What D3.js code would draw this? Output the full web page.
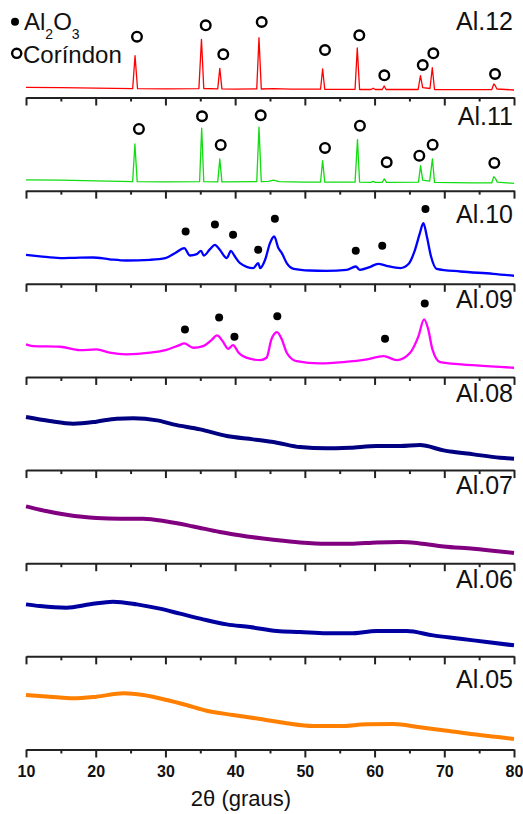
<!DOCTYPE html>
<html>
<head>
<meta charset="utf-8">
<script src="https://cdn.jsdelivr.net/npm/d3@7"></script>
<style>
	body { margin: 0; background: #fff; }
	text { font-family: Arial, "Liberation Sans", sans-serif; fill: #111; }
</style>
</head>
<body>
<svg id="chart"></svg>
<script>
// sample names, top to bottom
const samples = ['Al.12', 'Al.11', 'Al.10', 'Al.09', 'Al.08', 'Al.07', 'Al.06', 'Al.05'];
const xTicks = [10, 20, 30, 40, 50, 60, 70, 80];
const xMinorTicks = [15, 25, 35, 45, 55, 65, 75];

// patterns: [2theta, intensity (a.u., height above panel axis)]
const al12 = [[10,10.2],[15,9.8],[20,9.3],[25.3,8.8],[25.64,41.8],[26,8.8],[30,8.6],[34.8,8.8],[35.17,58.2],[35.5,9],[37.5,8.6],[37.8,29.2],[38.1,8.6],[40,8.4],[43.1,8.6],[43.42,59.8],[43.75,8.5],[45.5,8.8],[48,8.3],[52.25,8.3],[52.55,28.5],[52.85,8.2],[57.2,8.2],[57.52,49.5],[57.85,8],[59.5,8],[59.8,9.3],[60.1,8],[61.1,8],[61.38,11.5],[61.65,8],[66.25,8],[66.58,21.8],[66.9,9.8],[67.95,9],[68.28,29.8],[68.6,8],[74,7.8],[76.8,7.8],[77.1,13.5],[77.3,12],[77.55,8.5],[80,7.5]];
const al11 = [[10,10.7],[15,10.5],[20,9.8],[25.3,9],[25.62,46.7],[25.95,9],[30,8.8],[34.9,9],[35.2,62.4],[35.5,9],[37.5,8.8],[37.8,31.7],[38.1,8.8],[43.1,9],[43.42,63.4],[43.75,9],[44.8,9.2],[45.5,10.5],[46.3,9],[50,8.5],[52.25,8.5],[52.55,30],[52.85,8.5],[57.2,8.5],[57.55,51],[57.85,8.5],[59.5,8.3],[59.8,9.3],[60.1,8.3],[61.1,8.3],[61.4,11.7],[61.7,8.3],[66.3,8.5],[66.6,25],[66.9,10.5],[67.9,9.5],[68.3,31.7],[68.6,8.3],[74,7.7],[76.8,7.7],[77.1,14],[77.35,12],[77.6,8.5],[80,7.3]];
const al10 = [[10,29],[12,27.5],[14.9,25.7],[17,26],[19.6,26.3],[22,24.5],[24.4,23.3],[27.8,24],[30,25.7],[31.4,30.7],[32.7,35.7],[33.5,28.3],[34.5,29.7],[35.1,33],[35.5,28.3],[36.4,34.7],[37.1,39],[37.8,34],[38.8,25.7],[39.4,33],[39.9,28],[40.7,20.7],[42.6,15.7],[43.3,20.7],[43.6,15.7],[44.3,24],[45,40.7],[45.6,47.3],[46.2,35.7],[46.7,30.7],[47.4,20.7],[48.4,15],[50.7,13.3],[53.1,13],[56,14],[57.3,17.3],[57.9,14],[59.3,16.7],[60.5,20],[61.7,18],[63.7,15.7],[64.9,20],[65.8,34],[66.5,50.7],[67,60.7],[67.5,47.3],[68.1,27.3],[68.9,15],[72.3,12.3],[77,10],[80,8]];
const al09 = [[10,32.5],[11,30.8],[14.9,30.2],[17.7,26.8],[20.1,27.5],[22,24.2],[24.4,22.5],[27.8,24.2],[30,26.8],[31.9,31.5],[32.7,33.5],[34,29.2],[35.4,30.8],[36.6,36.8],[37.4,41.5],[38.2,35.8],[39,28.2],[39.7,31.8],[40.5,24.2],[42.1,18.2],[43.6,16.8],[44.5,19.2],[45.2,37.5],[46,44.8],[46.7,37.5],[47.4,24.2],[48.8,15.8],[52.2,13.5],[55.5,14.8],[58.9,17.5],[61.3,20.8],[63.2,16.8],[65.1,24.2],[66.3,40.8],[67.1,57.5],[67.7,47.5],[68.3,27.5],[69.4,14.8],[74.6,11.5],[80,9.2]];
const al08 = [[10,53],[13.4,49],[16.8,46.4],[20.1,48.4],[23,51.4],[25.4,51.7],[28.8,49.7],[31.1,45.7],[35,40.7],[38.8,34],[42.6,30.7],[46,27.4],[49.3,23],[53.1,21.7],[56.5,22.4],[60.3,24],[63.7,24],[66.5,25],[69.9,19.7],[74.2,15.7],[78,12.4],[80,11.4]];
const al07 = [[10,56.8],[12,53.5],[15.8,48.5],[20.1,45.2],[23.5,44.5],[26.8,44.5],[30.2,41.8],[34,36.8],[37.8,31.2],[41.7,26.8],[45.5,23.5],[49.3,20.8],[53.1,19.5],[56.5,19.5],[60.3,20.8],[63.7,21.2],[66.5,19.8],[69.9,16.8],[74.2,14.5],[78,11.8],[80,10.2]];
const al06 = [[10,52],[12,50.3],[15.8,48.7],[19.2,52],[22.5,54.7],[25.9,52],[29.2,47.7],[32.1,42.7],[35.4,37],[38.8,32],[42.1,29.3],[46,25.3],[49.3,24.3],[53.1,23],[56.5,23],[60.3,25.3],[64.6,25.3],[68.4,21],[72.3,17.7],[76.1,14.3],[80,11]];
const al05 = [[10,54.5],[13.4,52.8],[16.8,51.2],[20.1,52.8],[24,56.2],[26.8,54.5],[30.2,49.5],[33,44.5],[35.9,38.8],[39.7,34.5],[43.6,30.5],[47.4,26.2],[51.2,23.5],[55,23.5],[58.9,25.2],[62.7,25.5],[66.5,22.2],[70.4,18.8],[74.2,15.2],[78,12.2],[80,10.5]];

// phase markers: [2theta, level]
const corindon12 = [[25.92,60.8],[35.78,72.2],[38.3,43.2],[43.81,75.5],[52.89,47.5],[57.81,62.2],[61.4,22.2],[66.91,32.5],[68.43,44.2],[77.28,23.5]];
const corindon11 = [[26.2,61.7],[35.25,74.4],[37.93,45.7],[43.67,75.4],[52.89,42.7],[57.9,65],[61.74,28.4],[66.42,35],[68.33,46],[77.18,27.7]];
const alumina10 = [[32.9,52.3],[37.1,59.3],[39.7,49],[43.3,34],[45.7,65],[57.3,33],[61.1,38],[67.3,74.7]];
const alumina09 = [[32.8,47.5],[37.7,59.5],[39.9,40.2],[46.05,60.8],[61.5,38.2],[67.2,73.5]];

// level of each sample label
const labelLevels = [67.5, 65.3, 60.7, 69.2, 68.4, 69.5, 68.7, 61.2];

const patterns = [al12, al11, al10, al09, al08, al07, al06, al05];
const openMarks = [corindon12, corindon11, [], [], [], [], [], []];
const filledMarks = [[], [], alumina10, alumina09, [], [], [], []];

const colors = ['#ff0000', '#11dd11', '#0000ff', '#ff00ff', '#000080', '#800080', '#0000a0', '#ff8000'];
const widths = [1.3, 1.3, 2.3, 2.3, 4, 4, 4, 4];

let width = 523, height = 814;
let svg = d3.select('#chart').attr('width', width).attr('height', height);

let x = d3.scaleLinear().domain([10, 80]).range([26, 514]);
let axisY = d3.scaleLinear().domain([0, samples.length - 1]).range([97.5, 749.5]);
let panelH = 93;

let line = d3.line().x(d => x(d[0]));

samples.forEach(function(name, i) {
	let base = axisY(i);
	let y = d3.scaleLinear().domain([0, panelH]).range([base, base - panelH]);
	let g = svg.append('g').attr('class', 'panel');

	g.append('path')
		.datum(patterns[i])
		.attr('fill', 'none')
		.attr('stroke', colors[i])
		.attr('stroke-width', widths[i])
		.attr('stroke-linejoin', 'round')
		.attr('d', line.y(d => y(d[1])).curve(i < 2 ? d3.curveLinear : d3.curveMonotoneX));

	g.selectAll('.open').data(openMarks[i]).enter()
		.append('circle')
		.attr('cx', d => x(d[0])).attr('cy', d => y(d[1]))
		.attr('r', 4.8).attr('fill', 'none')
		.attr('stroke', '#000').attr('stroke-width', 2.4);

	g.selectAll('.filled').data(filledMarks[i]).enter()
		.append('circle')
		.attr('cx', d => x(d[0])).attr('cy', d => y(d[1]))
		.attr('r', 4).attr('fill', '#000');

	g.append('text')
		.attr('x', 513).attr('y', y(labelLevels[i]))
		.attr('text-anchor', 'end')
		.style('font-size', '25px')
		.text(name);

	// axis under each panel, ticks pointing down
	let last = i == samples.length - 1;
	let axis = d3.axisBottom(x)
		.tickValues(xTicks.concat(xMinorTicks))
		.tickSize(8).tickSizeOuter(0)
		.tickFormat(d => (last && xTicks.includes(d)) ? d : '');
	let ax = g.append('g').attr('transform', 'translate(0,' + base + ')').call(axis);
	ax.select('.domain').attr('stroke', '#222').attr('stroke-width', 2);
	ax.selectAll('.tick line').attr('stroke', '#222').attr('stroke-width', 2)
		.filter(d => !xTicks.includes(d)).attr('y2', 4);
	ax.selectAll('.tick text')
		.attr('y', 27).attr('dy', 0)
		.style('font-size', '16px').style('font-weight', 'bold')
		.attr('fill', '#111');
});

// x title
svg.append('text')
	.attr('x', 241).attr('y', 806)
	.attr('text-anchor', 'middle')
	.style('font-size', '22px')
	.text('2\u03b8 (graus)');

// legend
let legend = svg.append('g');
legend.append('circle').attr('cx', 15).attr('cy', 21.7).attr('r', 4).attr('fill', '#000');
let t1 = legend.append('text').attr('x', 24).attr('y', 29.5).style('font-size', '24px');
t1.append('tspan').text('Al');
t1.append('tspan').attr('dy', 9.5).style('font-size', '14px').text('2');
t1.append('tspan').attr('dy', -9.5).text('O');
t1.append('tspan').attr('dy', 9.5).style('font-size', '14px').text('3');
legend.append('circle').attr('cx', 16.7).attr('cy', 53.3).attr('r', 4.6)
	.attr('fill', 'none').attr('stroke', '#000').attr('stroke-width', 2.4);
legend.append('text').attr('x', 23).attr('y', 63.3).style('font-size', '24px').text('Cor\u00edndon');
</script>
</body>
</html>
